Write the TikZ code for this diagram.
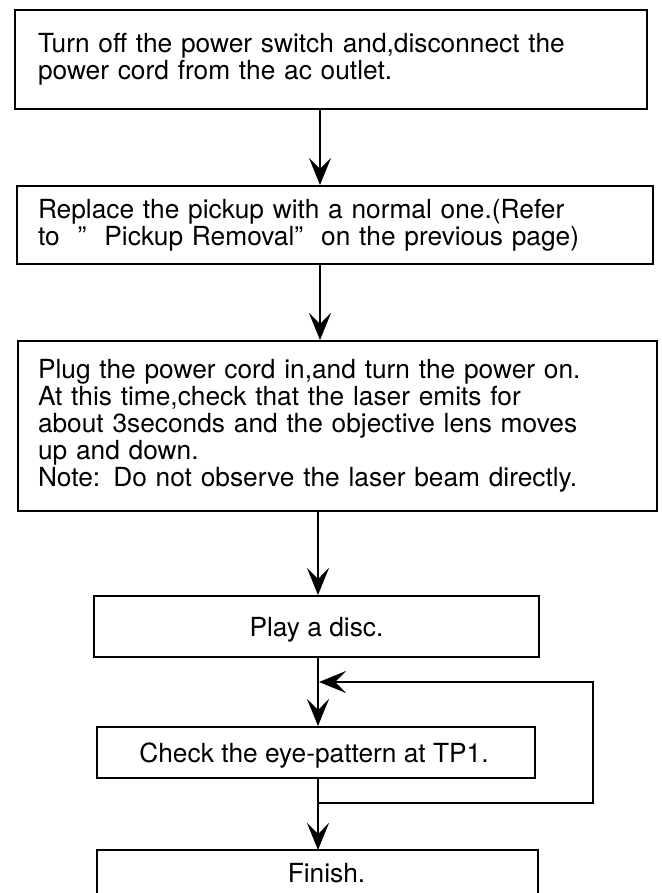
\documentclass[tikz,border=0pt]{standalone}
\usepackage{fontspec}
\setmainfont{TeX Gyre Heros}
\usetikzlibrary{arrows.meta}
\begin{document}
\begin{tikzpicture}[x=1pt,y=-1pt,
  box/.style={draw, line width=2pt, anchor=north west, inner ysep=0pt,
    font=\fontsize{26.3}{27}\selectfont},
  tbox/.style={box, align=left},
  cbox/.style={box, text height=19pt, text depth=0pt},
  arr/.style={line width=1.8pt, -{Stealth[length=27pt,width=22pt,inset=11pt]}}]
\fill[white] (0,0) rectangle (661,893);
\useasboundingbox (0,0) rectangle (661,893);

\node[tbox, minimum width=632pt, minimum height=99pt, inner xsep=23pt, text width=586pt] (b1) at (14,9)
  {Turn off the power switch and,disconnect the\\power cord from the ac outlet.};
\node[tbox, minimum width=636pt, minimum height=78pt, inner xsep=21pt, text width=594pt] (b2) at (16,185)
  {Replace the pickup with a normal one.(Refer\\to\hspace{18pt}”\hspace{18pt}Pickup Removal”\hspace{18pt}on the previous page)};
\node[tbox, minimum width=639pt, minimum height=170pt, inner xsep=20pt, text width=599pt] (b3) at (17,340)
  {Plug the power cord in,and turn the power on.\\At this time,check that the laser emits for\\about 3seconds and the objective lens moves\\up and down.\\Note: Do not observe the laser beam directly.};
\node[cbox, minimum width=445pt, minimum height=61pt] (play) at (93,595) {Play a disc.};
\node[cbox, minimum width=438pt, minimum height=51pt] (chk) at (96,726) {Check the eye-pattern at TP1.\hspace*{4pt}};
\node[cbox, draw=none, minimum width=439pt, minimum height=43pt] (fin) at (97,850) {\hspace*{18pt}Finish.};
\draw[line width=2pt] (fin.south west) -- (fin.north west) -- (fin.north east) -- (fin.south east);

\coordinate (ax) at (320,0);
\coordinate (bx) at (318,0);
\coordinate (lp1) at (318,803);
\coordinate (lp2) at (593,803);
\coordinate (lp3) at (593,682);
\coordinate (lp4) at (319,682);

\draw[arr] (b1.south -| ax) -- (b2.north -| ax);
\draw[arr] (b2.south -| ax) -- (b3.north -| ax);
\draw[arr] (b3.south -| bx) -- (play.north -| bx);
\draw[arr] (play.south -| bx) -- (chk.north -| bx);
\draw[arr] (chk.south -| bx) -- (fin.north -| bx);
\draw[arr] (lp1) -- (lp2) -- (lp3) -- (lp4);
\end{tikzpicture}
\end{document}
